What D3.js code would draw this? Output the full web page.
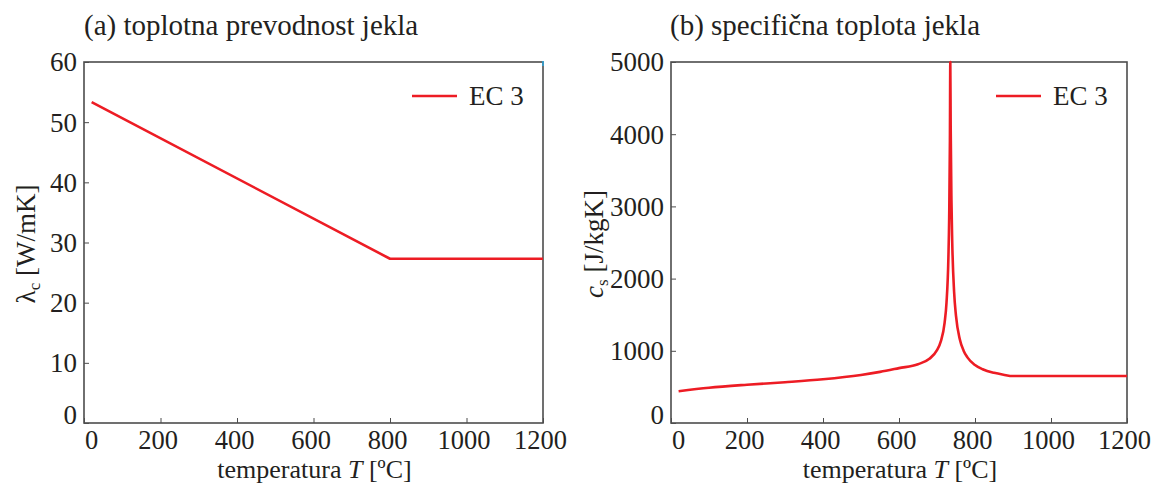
<!DOCTYPE html>
<html><head><meta charset="utf-8">
<script src="https://cdn.jsdelivr.net/npm/d3@7"></script>
<style>
body{margin:0;background:#fff;}
text{font-family:"Liberation Serif","Times New Roman",serif;fill:#231f20;}
</style></head>
<body><svg id="c" width="1162" height="484"></svg>
<script>
// ---- data ----
const xTicks = [0, 200, 400, 600, 800, 1000, 1200];
const lambdaTicks = [0, 10, 20, 30, 40, 50, 60];
const cTicks = [0, 1000, 2000, 3000, 4000, 5000];
const lambdaT = [20, 800, 1200];
const lambdaV = [53.33, 27.3, 27.3];
const cT = [20, 100, 200, 300, 400, 500, 550, 600, 650, 680, 700, 710, 720, 725, 730, 732, 734, 735,
            736, 738, 740, 745, 750, 760, 770, 780, 800, 820, 850, 875, 900, 1200];
const cV = [440, 488, 530, 565, 606, 666, 708, 760, 814, 890, 1008, 1130, 1388, 1666, 2291, 2833, 3917, 5000,
            4109, 3091, 2525, 1818, 1483, 1160, 1002, 909, 803, 745, 695, 669, 650, 650];
const legendLabel = "EC 3";

const svg = d3.select("#c");
const red = "#ed1c24", axisCol = "#4d4d4d";
const TOP = 62, BOT = 423;

function panel(opt){
  const g = svg.append("g");
  const x = d3.scaleLinear().domain([0,1200]).range([opt.x0, opt.x1]);
  const y = d3.scaleLinear().domain([0,opt.ymax]).range([BOT, TOP]);
  // frame
  g.append("rect").attr("x",opt.x0).attr("y",TOP).attr("width",opt.x1-opt.x0).attr("height",BOT-TOP)
    .attr("fill","none").attr("stroke",axisCol).attr("stroke-width",1.6);
  // x axis
  const xa = g.append("g").attr("transform",`translate(0,${BOT})`)
    .call(d3.axisBottom(x).tickValues(xTicks).tickSize(-5).tickPadding(0).tickFormat(d3.format("d")));
  xa.select(".domain").remove();
  xa.selectAll("line").attr("stroke",axisCol);
  xa.selectAll("text").attr("font-size",26.5).attr("y",26).attr("dy","0").attr("dx",-3).style("fill","#231f20")
    .filter(d=>d===0).attr("dx",7);
  // y axis
  const ya = g.append("g").attr("transform",`translate(${opt.x0},0)`)
    .call(d3.axisLeft(y).tickValues(opt.yTicks).tickSize(-5).tickPadding(7).tickFormat(d3.format("d")));
  ya.select(".domain").remove();
  ya.selectAll("line").attr("stroke",axisCol);
  ya.selectAll("text").attr("font-size",27).attr("dy","0.33em").style("fill","#231f20")
    .filter(d=>d===0).attr("dy","0.0em");
  // line
  const pts = opt.T.map((t,i)=>[t,opt.V[i]]);
  g.append("path").datum(pts).attr("fill","none").attr("stroke",red).attr("stroke-width",2.6)
    .attr("stroke-linejoin","round")
    .attr("d", d3.line().x(d=>x(d[0])).y(d=>y(d[1])).curve(opt.curve));
  // legend
  g.append("line").attr("x1",opt.x1-131).attr("x2",opt.x1-86).attr("y1",96).attr("y2",96)
    .attr("stroke",red).attr("stroke-width",2.6);
  g.append("text").attr("x",opt.x1-74).attr("y",96).attr("dy","0.35em").attr("font-size",27).text(legendLabel);
  // title
  g.append("text").attr("x",opt.titleX).attr("y",35).attr("font-size",29).text(opt.title);
  // x label
  const xl = g.append("text").attr("x",(opt.x0+opt.x1)/2+1).attr("y",478).attr("text-anchor","middle").attr("font-size",26);
  xl.append("tspan").text("temperatura ");
  xl.append("tspan").attr("font-style","italic").text("T");
  xl.append("tspan").text(" [ºC]");
  return {g,x,y};
}

const a = panel({x0:84,x1:543,ymax:60,yTicks:lambdaTicks,T:lambdaT,V:lambdaV,curve:d3.curveLinear,
  title:"(a) toplotna prevodnost jekla", titleX:84});
const b = panel({x0:671,x1:1127,ymax:5000,yTicks:cTicks,T:cT,V:cV,curve:d3.curveMonotoneX,
  title:"(b) specifična toplota jekla", titleX:670});

// y labels
const yl1 = svg.append("text").attr("transform","translate(35,244) rotate(-90)").attr("text-anchor","middle").attr("font-size",27);
yl1.append("tspan").text("λ");
yl1.append("tspan").attr("font-size",17).attr("dy",5).text("c");
yl1.append("tspan").attr("dy",-5).text(" [W/mK]");
const yl2 = svg.append("text").attr("transform","translate(603,244) rotate(-90)").attr("text-anchor","middle").attr("font-size",27);
yl2.append("tspan").attr("font-style","italic").text("c");
yl2.append("tspan").attr("font-size",17).attr("dy",5).text("s");
yl2.append("tspan").attr("dy",-5).text(" [J/kgK]");
// small blue mark at top-right corner of panel (a)
svg.append("line").attr("x1",543).attr("x2",543).attr("y1",61).attr("y2",66).attr("stroke","#29a8e0").attr("stroke-width",1.5);
</script></body></html>
